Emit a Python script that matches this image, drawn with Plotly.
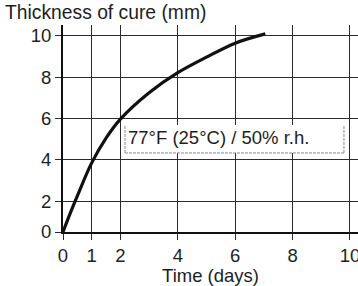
import plotly.graph_objects as go

# Data
days = [0, 0.25, 0.5, 1, 1.5, 2, 3, 4, 5, 6, 7.05]
thickness = [0.5, 1.4, 2.25, 3.85, 5.05, 5.97, 7.25, 8.22, 8.97, 9.65, 10.1]

x_ticks = [0, 1, 2, 4, 6, 8, 10]
x_ticktext = ["0", "1", "2", "4", "6", "8", "10"]
y_ticks = [0.5, 2, 4, 6, 8, 10]
y_ticktext = ["0", "2", "4", "6", "8", "10"]

y_title = "Thickness of cure (mm)"
x_title = "Time (days)"
label = "77°F (25°C) / 50% r.h."

FONT = "Liberation Sans, Arial, sans-serif"
FS = 18.5
TXT = "#1e1e1e"
GRID = "#2b2b2b"

fig = go.Figure()
fig.add_trace(go.Scatter(
    x=days, y=thickness, mode="lines",
    line=dict(color="#111111", width=3.2, shape="spline", smoothing=1.0),
    hoverinfo="skip", showlegend=False,
))

# label box (white fill, dashed border on left/bottom/right)
bx0, bx1, by0, by1 = 2.16, 9.79, 4.33, 5.69
fig.add_shape(type="rect", x0=bx0, x1=bx1, y0=by0, y1=by1,
              fillcolor="white", line=dict(width=0), layer="above")
for (xa, ya, xb, yb) in [(bx0, by0, bx0, by1), (bx0, by0, bx1, by0), (bx1, by0, bx1, by1)]:
    fig.add_shape(type="line", x0=xa, y0=ya, x1=xb, y1=yb,
                  line=dict(color="#888888", width=1, dash="3px,1px"), layer="above")

fig.add_annotation(x=2.2, y=5.08, text=label, showarrow=False,
                   xanchor="left", yanchor="middle",
                   font=dict(family=FONT, size=FS, color=TXT))

fig.add_annotation(xref="paper", yref="paper", x=-0.203, y=1.06, text=y_title,
                   showarrow=False, xanchor="left", yanchor="middle",
                   font=dict(family=FONT, size=19.3, color=TXT))

fig.update_layout(
    width=358, height=286,
    margin=dict(l=63, r=0, t=25, b=54, autoexpand=False),
    paper_bgcolor="white", plot_bgcolor="white",
    font=dict(family=FONT, size=FS, color=TXT),
    xaxis=dict(
        range=[0, 10.28], tickvals=x_ticks, ticktext=x_ticktext,
        automargin=False, ticklabeloverflow="allow",
        showgrid=True, gridcolor=GRID, gridwidth=1.4,
        zeroline=False, showline=True, linecolor="#111111", linewidth=2,
        ticks="outside", ticklen=6, tickcolor=GRID, tickwidth=1.4,
        tickfont=dict(family=FONT, size=FS, color=TXT),
        title=dict(text=x_title, standoff=2,
                   font=dict(family=FONT, size=FS, color=TXT)),
        fixedrange=True,
    ),
    yaxis=dict(
        range=[0.5, 10.53], tickvals=y_ticks, ticktext=y_ticktext,
        automargin=False, ticklabeloverflow="allow",
        showgrid=True, gridcolor=GRID, gridwidth=1.4,
        zeroline=False, showline=True, linecolor="#111111", linewidth=2,
        ticks="outside", ticklen=6, tickcolor=GRID, tickwidth=1.4,
        tickfont=dict(family=FONT, size=FS, color=TXT),
        fixedrange=True,
    ),
)

fig.write_html("out.html", config={"displayModeBar": False},
               post_script="document.body.style.margin='0';document.body.style.overflow='hidden';")
